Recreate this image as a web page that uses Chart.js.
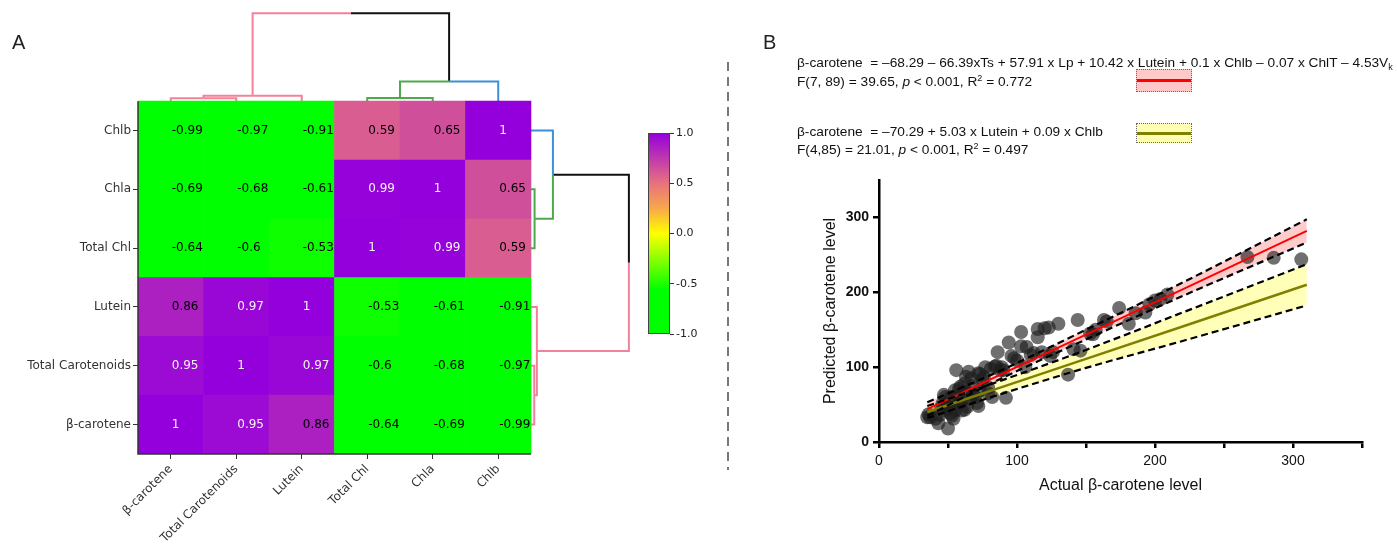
<!DOCTYPE html>
<html>
<head>
<meta charset="utf-8">
<script src="https://cdn.jsdelivr.net/npm/chart.js@4.4.1/dist/chart.umd.min.js"></script>
<style>
  html, body { margin: 0; padding: 0; background: #fff; }
  #page { position: relative; width: 1397px; height: 545px; overflow: hidden; font-family: 'Liberation Sans', Arial, sans-serif; color: #111; }
  canvas { position: absolute; }
  .panel { position: absolute; font-size: 20px; line-height: 20px; color: #222; }
  .eq { position: absolute; left: 797px; font-size: 13.7px; line-height: 16px; white-space: nowrap; }
  .eq sub, .eq sup { font-size: 9px; line-height: 0; }
  .eq sub { vertical-align: -3px; }
  .eq sup { vertical-align: 5px; }
  .swatch { position: absolute; left: 1136px; width: 56px; box-sizing: border-box; border: 1px dotted #666; }
  .swatch i { position: absolute; left: 0; right: 0; top: 50%; height: 3px; margin-top: -1.5px; }
  #divider { position: absolute; left: 727px; top: 62px; width: 2px; height: 408px;
    background: repeating-linear-gradient(to bottom, #777 0 9px, transparent 9px 15px); }
</style>
</head>
<body>
<div id="page">
  <canvas id="heat" width="720" height="545" style="left:0;top:0"></canvas>
  <canvas id="cbar" width="90" height="240" style="left:630px;top:110px"></canvas>
  <canvas id="scatter" width="657" height="545" style="left:740px;top:0"></canvas>
  <div id="divider"></div>
  <div class="panel" style="left:12px;top:32px">A</div>
  <div class="panel" style="left:763px;top:32px">B</div>
  <div class="eq" style="top:55px">β-carotene&nbsp; = –68.29 – 66.39xTs + 57.91 x Lp + 10.42 x Lutein + 0.1 x Chlb – 0.07 x ChlT – 4.53V<sub>k</sub></div>
  <div class="eq" style="top:74px">F(7, 89) = 39.65, <i>p</i> &lt; 0.001, R<sup>2</sup> = 0.772</div>
  <div class="eq" style="top:124px">β-carotene&nbsp; = –70.29 + 5.03 x Lutein + 0.09 x Chlb</div>
  <div class="eq" style="top:142px">F(4,85) = 21.01, <i>p</i> &lt; 0.001, R<sup>2</sup> = 0.497</div>
  <div class="swatch" style="top:69px;height:23px;background:#ffc9c9"><i style="background:#ff0000"></i></div>
  <div class="swatch" style="top:123px;height:20px;background:#ffffb4"><i style="background:#808000"></i></div>
</div>
<script>
// ---- panel A data ----
const varNames = ['β-carotene', 'Total Carotenoids', 'Lutein', 'Total Chl', 'Chla', 'Chlb'];
const corr = [
  [1, 0.95, 0.86, -0.64, -0.69, -0.99],
  [0.95, 1, 0.97, -0.6, -0.68, -0.97],
  [0.86, 0.97, 1, -0.53, -0.61, -0.91],
  [-0.64, -0.6, -0.53, 1, 0.99, 0.59],
  [-0.69, -0.68, -0.61, 0.99, 1, 0.65],
  [-0.99, -0.97, -0.91, 0.59, 0.65, 1]
];
// merges: [left node, right node, height]; leaves are 0-5, new nodes 6+
const linkage = [[0, 1, 0.05], [6, 2, 0.09], [3, 4, 0.055], [8, 5, 0.335], [7, 9, 1.495]];
const colorbarTicks = [-1, -0.5, 0, 0.5, 1];

// ---- panel B data ----
const actual = [267, 286, 306, 174, 181, 186, 193, 196, 204, 209, 200, 165, 163, 155, 157, 153, 144, 146, 141, 137,
  130, 123, 120, 126, 124, 115, 115, 103, 103, 107, 110, 112, 94, 96, 100, 106, 98, 86, 85, 81,
  89, 90, 84, 73, 76, 72, 65, 63, 56, 62, 58, 55, 52, 48, 47, 59, 63, 68, 73, 79,
  75, 82, 92, 72, 64, 60, 55, 52, 47, 44, 41, 37, 35, 36, 43, 50, 54, 58, 50, 46,
  62, 79, 71, 66, 60, 68, 57, 88, 54, 45, 70, 53, 77, 67, 118];
const predicted = [247, 246, 244, 179, 158, 172, 173, 184, 191, 197, 189, 161, 163, 144, 150, 145, 163, 122, 124, 90,
  158, 153, 152, 120, 115, 151, 140, 147, 128, 127, 116, 119, 133, 115, 109, 100, 112, 120, 102, 98,
  100, 96, 101, 91, 87, 92, 94, 87, 96, 78, 71, 69, 60, 60, 63, 74, 67, 64, 69, 73,
  83, 60, 59, 48, 47, 42, 42, 38, 42, 36, 31, 33, 33, 37, 25, 18, 31, 51, 47, 51,
  43, 65, 52, 58, 55, 75, 62, 96, 52, 45, 60, 35, 100, 85, 120];
const fitX = [35, 90, 150, 220, 310];
const fullFit = [44, 91.6, 143.5, 204, 282];
const fullUpper = [53, 97, 150, 213, 297.5];
const fullLower = [35, 86, 137, 195, 266.5];
const reducedFit = [40, 74, 111, 154.3, 210];
const reducedUpper = [48, 83, 123, 173, 237.5];
const reducedLower = [32, 65, 99, 135, 182.5];
const xTicks = [0, 50, 100, 150, 200, 250, 300, 350];
const yTicks = [0, 100, 200, 300];

// ---- styles ----
const cmapStops = [[-1, '#00ff00'], [-0.56, '#00ff00'], [0, '#ffff00'], [0.25, '#f7a84a'], [0.5, '#e8717f'], [1, '#9400dc']];
const PINK = '#f2829a', GREEN = '#4caa4c', BLUE = '#3a90da', BLACK = '#111111';
const linkColors = [[PINK, PINK], [PINK, PINK], [GREEN, GREEN], [GREEN, BLUE], [PINK, BLACK]];
const DV = 'DejaVu Sans';

function hexRgb(h) { return [1, 3, 5].map(i => parseInt(h.substr(i, 2), 16)); }
function cmap(v) {
  for (let i = 1; i < cmapStops.length; i++) {
    const [v0, c0] = cmapStops[i - 1], [v1, c1] = cmapStops[i];
    if (v <= v1) {
      const t = (v - v0) / (v1 - v0), a = hexRgb(c0), b = hexRgb(c1);
      return 'rgb(' + a.map((x, k) => Math.round(x + (b[k] - x) * t)).join(',') + ')';
    }
  }
  return cmapStops[cmapStops.length - 1][1];
}

// dendrogram polylines in (position, height) units
function dendroSegments() {
  const pos = varNames.map((_, i) => i + 0.5), hgt = varNames.map(() => 0);
  const segs = [];
  linkage.forEach(([a, b, h], k) => {
    const mid = (pos[a] + pos[b]) / 2;
    segs.push({ pts: [[pos[a], hgt[a]], [pos[a], h], [mid, h]], color: linkColors[k][0] });
    segs.push({ pts: [[mid, h], [pos[b], h], [pos[b], hgt[b]]], color: linkColors[k][1] });
    pos.push(mid); hgt.push(h);
  });
  return segs;
}

const n = varNames.length;
const cellSets = corr.map((row, i) => ({
  type: 'bar',
  data: row.map((v, j) => ({ x: j + 0.5, y: [i, i + 1], v: v })),
  backgroundColor: row.map(v => cmap(v)),
  borderWidth: 0,
  grouped: false,
  barPercentage: 1,
  categoryPercentage: 1
}));
const dendroSets = [];
dendroSegments().forEach(s => {
  const lineStyle = { type: 'line', borderColor: s.color, borderWidth: 2, pointRadius: 0, fill: false, tension: 0 };
  dendroSets.push(Object.assign({ data: s.pts.map(([p, h]) => ({ x: p, y: n + h })) }, lineStyle));
  dendroSets.push(Object.assign({ data: s.pts.map(([p, h]) => ({ x: n + h, y: p })) }, lineStyle));
});

const cellText = {
  id: 'cellText',
  afterDatasetsDraw(chart) {
    const ctx = chart.ctx;
    ctx.save();
    ctx.font = '12px "' + DV + '"';
    ctx.textAlign = 'left';
    ctx.textBaseline = 'middle';
    chart.data.datasets.forEach((ds, di) => {
      if (ds.type !== 'bar') return;
      chart.getDatasetMeta(di).data.forEach((bar, j) => {
        const v = ds.data[j].v;
        ctx.fillStyle = v > 0.9 ? '#f4f4f4' : '#000';
        ctx.fillText(String(v), bar.x + 1, (bar.y + bar.base) / 2);
      });
    });
    ctx.restore();
  }
};
const heatFrame = {
  id: 'heatFrame',
  afterDatasetsDraw(chart) {
    const { ctx, scales: { x, y } } = chart;
    const x0 = x.getPixelForValue(0), x1 = x.getPixelForValue(n);
    const y0 = y.getPixelForValue(0), y1 = y.getPixelForValue(n);
    ctx.save();
    ctx.strokeStyle = '#333';
    ctx.lineWidth = 1.5;
    ctx.beginPath();
    ctx.moveTo(x0, y1); ctx.lineTo(x0, y0); ctx.lineTo(x1, y0);
    ctx.stroke();
    ctx.restore();
  }
};

const tickCenters = varNames.map((_, i) => ({ value: i + 0.5 }));
new Chart(document.getElementById('heat'), {
  type: 'bar',
  data: { datasets: cellSets.concat(dendroSets) },
  options: {
    responsive: false, animation: false, events: [],
    layout: { padding: { top: 10, right: 87.5, left: 0, bottom: 0 } },
    plugins: { legend: { display: false }, tooltip: { enabled: false } },
    scales: {
      x: {
        type: 'linear', min: 0, max: 7.55, offset: false,
        afterBuildTicks: s => { s.ticks = tickCenters.map(t => ({ value: t.value })); },
        afterFit: s => { s.height = 91; },
        ticks: { autoSkip: false, minRotation: 45, maxRotation: 45, padding: 3, color: '#333',
          font: { family: DV, size: 12 }, callback: (v, i) => varNames[i] },
        grid: { display: true, offset: false, drawOnChartArea: false, tickLength: 5, color: '#333' },
        border: { display: false }
      },
      y: {
        type: 'linear', min: 0, max: 7.55,
        afterBuildTicks: s => { s.ticks = tickCenters.map(t => ({ value: t.value })); },
        afterFit: s => { s.width = 138; },
        ticks: { autoSkip: false, padding: 2, color: '#333', font: { family: DV, size: 12 },
          callback: (v, i) => varNames[i] },
        grid: { display: true, drawOnChartArea: false, tickLength: 5, color: '#333' },
        border: { display: false }
      }
    }
  },
  plugins: [cellText, heatFrame]
});

// colour bar
new Chart(document.getElementById('cbar'), {
  type: 'bar',
  data: {
    labels: [''],
    datasets: [{
      data: [[colorbarTicks[0], colorbarTicks[colorbarTicks.length - 1]]],
      backgroundColor: c => {
        const a = c.chart.chartArea;
        if (!a) return cmap(0);
        const g = c.chart.ctx.createLinearGradient(0, a.bottom, 0, a.top);
        cmapStops.forEach(([v, col]) => g.addColorStop((v + 1) / 2, col));
        return g;
      },
      borderColor: '#444', borderWidth: 1, borderSkipped: false,
      barPercentage: 1, categoryPercentage: 1, inflateAmount: 0
    }]
  },
  options: {
    responsive: false, animation: false, events: [],
    layout: { padding: { left: 18, top: 23, bottom: 16, right: 0 } },
    plugins: { legend: { display: false }, tooltip: { enabled: false } },
    scales: {
      x: { display: false },
      y: {
        position: 'right', min: -1, max: 1,
        afterBuildTicks: s => { s.ticks = colorbarTicks.map(v => ({ value: v })); },
        afterFit: s => { s.width = 50; },
        ticks: { callback: v => v.toFixed(1), font: { family: DV, size: 11 }, color: '#222', padding: 2 },
        grid: { drawOnChartArea: false, tickLength: 4, color: '#333' },
        border: { display: false }
      }
    }
  }
});

// ---- panel B ----
const pts = (xs, ys) => xs.map((x, i) => ({ x: x, y: ys[i] }));
const dashed = { showLine: true, pointRadius: 0, borderColor: '#000', borderWidth: 2.2, borderDash: [7, 4], order: 0, cubicInterpolationMode: 'monotone' };
new Chart(document.getElementById('scatter'), {
  type: 'scatter',
  data: {
    datasets: [
      Object.assign({ data: pts(fitX, fullLower), fill: false }, dashed),
      Object.assign({ data: pts(fitX, fullUpper), fill: '-1', backgroundColor: 'rgba(255,0,0,0.2)' }, dashed),
      Object.assign({ data: pts(fitX, reducedLower), fill: false }, dashed),
      Object.assign({ data: pts(fitX, reducedUpper), fill: '-1', backgroundColor: 'rgba(255,255,0,0.28)' }, dashed),
      { data: pts(fitX, fullFit), showLine: true, pointRadius: 0, borderColor: '#ff0000', borderWidth: 2, fill: false, order: 0 },
      { data: pts(fitX, reducedFit), showLine: true, pointRadius: 0, borderColor: '#808000', borderWidth: 2.5, fill: false, order: 0 },
      { data: pts(actual, predicted), pointRadius: 7, backgroundColor: 'rgba(30,30,30,0.64)', borderWidth: 0, order: 1 }
    ]
  },
  options: {
    responsive: false, animation: false, events: [],
    layout: { padding: { top: 180, right: 35, left: 0, bottom: 0 } },
    plugins: { legend: { display: false }, tooltip: { enabled: false }, filler: { drawTime: 'beforeDatasetsDraw' } },
    scales: {
      x: {
        type: 'linear', min: 0, max: 350,
        afterBuildTicks: s => { s.ticks = xTicks.map(v => ({ value: v })); },
        afterFit: s => { s.height = 103; },
        ticks: { autoSkip: false, maxRotation: 0, padding: 5, color: '#111',
          font: { family: 'Liberation Sans', size: 14 }, callback: v => (v % 100 === 0 ? v : '') },
        grid: { display: true, drawOnChartArea: false, tickLength: 6, lineWidth: 2.5, color: '#000' },
        border: { width: 2.5, color: '#000' },
        title: { display: true, text: 'Actual β-carotene level', color: '#111',
          font: { family: 'Liberation Sans', size: 16 }, padding: { top: 0, bottom: 50 } }
      },
      y: {
        type: 'linear', min: 0, max: 350,
        afterBuildTicks: s => { s.ticks = yTicks.map(v => ({ value: v })); },
        afterFit: s => { s.width = 139; },
        ticks: { padding: 4, color: '#111', font: { family: 'Liberation Sans', size: 14, weight: 'bold' } },
        grid: { display: true, drawOnChartArea: false, tickLength: 6, lineWidth: 2.5, color: '#000' },
        border: { width: 2.5, color: '#000' },
        title: { display: true, text: 'Predicted β-carotene level', color: '#111',
          font: { family: 'Liberation Sans', size: 16 }, padding: { top: 81, bottom: 0 } }
      }
    }
  }
});
</script>
</body>
</html>
